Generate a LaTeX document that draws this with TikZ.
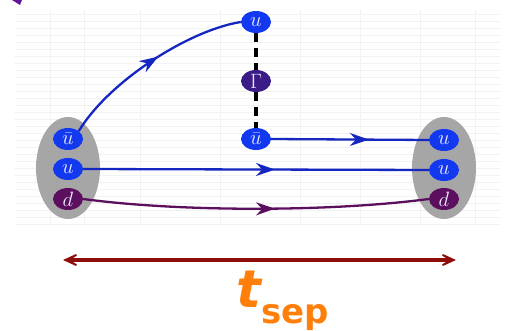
\documentclass[tikz,border=0pt]{standalone}
\usepackage{fontspec}
\newfontfamily\tsepfont{DejaVu Sans}
\usetikzlibrary{arrows.meta,decorations.markings,shapes.geometric}
\definecolor{qblue}{HTML}{1238F0}
\definecolor{lblue}{HTML}{1626C0}
\definecolor{qpurple}{HTML}{5C0F5E}
\definecolor{gpurple}{HTML}{3B1C86}
\definecolor{blobgray}{HTML}{A6A6A6}
\definecolor{sepred}{HTML}{8E0E0E}
\definecolor{seporange}{HTML}{FF7F0A}
\tikzset{
  quark/.style={ellipse,fill=qblue,text=white!92!blue,minimum width=30pt,minimum height=22pt,inner sep=0pt,font=\fontsize{21}{21}\selectfont},
  dquark/.style={quark,fill=qpurple},
  gvertex/.style={quark,fill=gpurple},
  blob/.style={ellipse,fill=blobgray,minimum width=64pt,minimum height=102pt},
  midarrow/.style={decoration={markings,mark=at position #1 with {\arrow{Stealth[length=19pt,width=13pt]}}},postaction={decorate}},
  prop/.style={line width=2.3pt,draw=lblue},
  cur/.style={line width=3.2pt,dash pattern=on 9pt off 6pt},
}
\begin{document}
\begin{tikzpicture}[x=1pt,y=-1pt]
\useasboundingbox (0,0) rectangle (512,331);
% faint background grid
\begin{scope}[draw=black!5,line width=0.5pt]
  \foreach \y in {14,21,...,224} \draw (15,\y) -- (500,\y);
  \foreach \x in {50,84,140,220,300,360,420,475} \draw (\x,10) -- (\x,225);
\end{scope}
% clipped corner mark
\fill[gpurple!80!magenta] (12,0) -- (22,0) -- (20,5) -- cycle;
% hadron blobs
\node[blob] (bl) at (68,168) {};
\node[blob] (br) at (444,168) {};
% quarks
\node[quark] (lub) at (68,139) {$\bar u$};
\node[quark] (lu) at (68,169) {$u$};
\node[dquark] (ld) at (68,199) {$d$};
\node[quark] (ru1) at (444,140) {$u$};
\node[quark] (ru2) at (444,170) {$u$};
\node[dquark] (rd) at (444,199) {$d$};
\node[quark] (tu) at (256,22) {$u$};
\node[gvertex] (gam) at (256,81) {$\Gamma$};
\node[quark] (mub) at (256,139) {$\bar u$};
% current insertion
\draw[cur] (tu) -- (gam);
\draw[cur] (gam) -- (mub);
% propagators
\draw[prop,midarrow=0.55] (lub.north east) .. controls (110,80) and (190,30) .. (tu.west);
\draw[prop,midarrow=0.62] (mub.east) -- (ru1.west);
\draw[prop,midarrow=0.555] (lu.east) -- (ru2.west);
\draw[line width=2.3pt,draw=qpurple,midarrow=0.555] (ld.east) .. controls (180,212) and (330,212) .. (rd.west);
% separation arrow
\coordinate (sl) at (63,260);
\coordinate (sr) at (456,260);
\draw[sepred,line width=3.5pt,{Stealth[length=24pt,width=22pt,inset=17pt]}-{Stealth[length=24pt,width=22pt,inset=17pt]}] (sl) -- (sr);
\node[text=seporange,anchor=base,inner sep=0pt] (tsep) at (283,308) {\tsepfont\bfseries\fontsize{52}{52}\selectfont\itshape t\upshape\raisebox{-16pt}{\fontsize{34}{34}\selectfont sep}};
\end{tikzpicture}
\end{document}
